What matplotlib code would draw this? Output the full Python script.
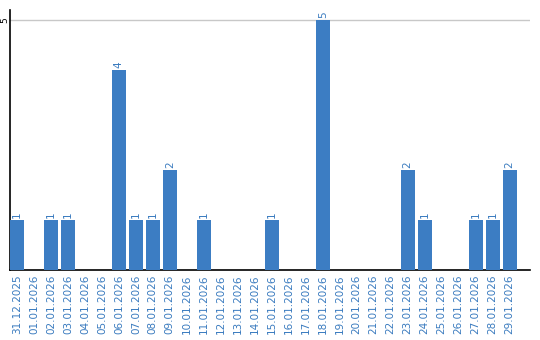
import matplotlib
matplotlib.use("Agg")
import matplotlib.pyplot as plt

dates = ["31.12.2025", "01.01.2026", "02.01.2026", "03.01.2026", "04.01.2026",
         "05.01.2026", "06.01.2026", "07.01.2026", "08.01.2026", "09.01.2026",
         "10.01.2026", "11.01.2026", "12.01.2026", "13.01.2026", "14.01.2026",
         "15.01.2026", "16.01.2026", "17.01.2026", "18.01.2026", "19.01.2026",
         "20.01.2026", "21.01.2026", "22.01.2026", "23.01.2026", "24.01.2026",
         "25.01.2026", "26.01.2026", "27.01.2026", "28.01.2026", "29.01.2026"]
counts = [1, 0, 1, 1, 0, 0, 4, 1, 1, 2, 0, 1, 0, 0, 0, 1, 0, 0, 5, 0,
          0, 0, 0, 2, 1, 0, 0, 1, 1, 2]

bar_c = "#3c7dc3"
txt_c = "#3a7bbf"

fig = plt.figure(figsize=(5.4, 3.4), dpi=100)
ax = fig.add_axes([10 / 540, 70 / 340, 520 / 540, 260 / 340])

x = list(range(len(dates)))
bars = ax.bar(x, counts, width=0.82, color=bar_c, zorder=3)
for xi, v in zip(x, counts):
    if v > 0:
        ax.text(xi, v + 0.04, str(v), rotation=90, ha="center", va="bottom",
                color=txt_c, fontsize=7.5)

ax.set_xlim(-0.41, 30.2)
ax.set_ylim(0, 5.2)
ax.set_yticks([5])
ax.set_yticklabels(["5"], rotation=90, va="center", fontsize=6.5)
ax.tick_params(axis="y", length=0, pad=0.5)
ax.grid(axis="y", color="#c8c8c8", linewidth=1, zorder=0)

ax.set_xticks(x)
ax.set_xticklabels(dates, rotation=90, color=txt_c, fontsize=7.5)
ax.tick_params(axis="x", length=0, pad=3)

for s in ["top", "right"]:
    ax.spines[s].set_visible(False)
ax.spines["left"].set_linewidth(1.2)
ax.spines["bottom"].set_linewidth(1.2)

fig.savefig("out.png", dpi=100)
